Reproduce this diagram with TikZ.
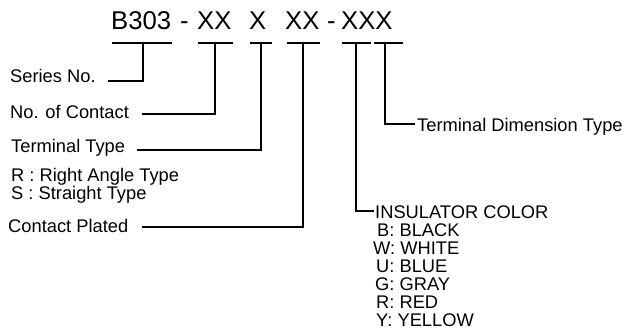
\documentclass[tikz,border=0pt]{standalone}
\usepackage{fontspec}
\setmainfont{Liberation Sans}
\begin{document}
\begin{tikzpicture}[x=1pt,y=-1pt,
  code/.style={anchor=base west,inner sep=0pt,font=\fontsize{25.7}{25.7}\selectfont},
  lbl/.style={anchor=base west,inner sep=0pt,font=\fontsize{18.3}{18.3}\selectfont},
  opt/.style={anchor=base west,inner sep=0pt,font=\fontsize{18.3}{18.3}\selectfont},
  ln/.style={line width=1.1pt,line cap=butt}]
\useasboundingbox (0,0) rectangle (628,329);
% code string
\node[code] (c1) at (111,30) {B303};
\node[code] (d1) at (180,30) {-};
\node[code] (c2) at (197,30) {XX};
\node[code] (c3) at (249,30) {X};
\node[code] (c4) at (285,30) {XX};
\node[code] (d2) at (327,30) {-};
\node[code] (c5) at (341,30) {XXX};
% underline coordinates
\coordinate (u1a) at (112,43); \coordinate (u1b) at (172,43); \coordinate (t1) at (143,43);
\coordinate (u2a) at (198,43); \coordinate (u2b) at (233,43); \coordinate (t2) at (215,43);
\coordinate (u3a) at (250,43); \coordinate (u3b) at (272,43); \coordinate (t3) at (261,43);
\coordinate (u4a) at (287,43); \coordinate (u4b) at (320,43); \coordinate (t4) at (303,43);
\coordinate (u5a) at (342,43); \coordinate (u5b) at (371,43); \coordinate (t5) at (356,43);
\coordinate (u6a) at (374,43); \coordinate (u6b) at (403,43); \coordinate (t6) at (385,43);
\foreach \a/\b in {u1a/u1b,u2a/u2b,u3a/u3b,u4a/u4b,u5a/u5b,u6a/u6b}
  \draw[ln] (\a) -- (\b);
% left labels
\node[lbl] (l1) at (10,82) {Series No.};
\node[lbl] (l2) at (10,118) {No. of Contact};
\node[lbl] (l3) at (11,152) {Terminal Type};
\node[lbl] (l3a) at (11,181) {R : Right Angle Type};
\node[lbl] (l3b) at (11,199) {S : Straight Type};
\node[lbl] (l4) at (8,232) {Contact Plated};
\coordinate (e1) at (108,81); \coordinate (e2) at (142,114);
\coordinate (e3) at (137,150); \coordinate (e4) at (142,227);
\draw[ln] (e1) -- (t1 |- e1) -- (t1);
\draw[ln] (e2) -- (t2 |- e2) -- (t2);
\draw[ln] (e3) -- (t3 |- e3) -- (t3);
\draw[ln] (e4) -- (t4 |- e4) -- (t4);
% right labels
\node[lbl] (r1) at (417,131) {Terminal Dimension Type};
\node[lbl] (r2) at (375,218) {INSULATOR COLOR};
\node[opt] (k1) at (377,236) {B: BLACK};
\node[opt] (k2) at (373,254) {W: WHITE};
\node[opt] (k3) at (376,272) {U: BLUE};
\node[opt] (k4) at (375,290) {G: GRAY};
\node[opt] (k5) at (376,308) {R: RED};
\node[opt] (k6) at (376,326) {Y: YELLOW};
\draw[ln] (t6) -- (t6 |- 0,124) -- ([xshift=-2pt]r1.west |- 0,124);
\draw[ln] (t5) -- (t5 |- 0,211) -- ([xshift=-1pt]r2.west |- 0,211);
\end{tikzpicture}
\end{document}
